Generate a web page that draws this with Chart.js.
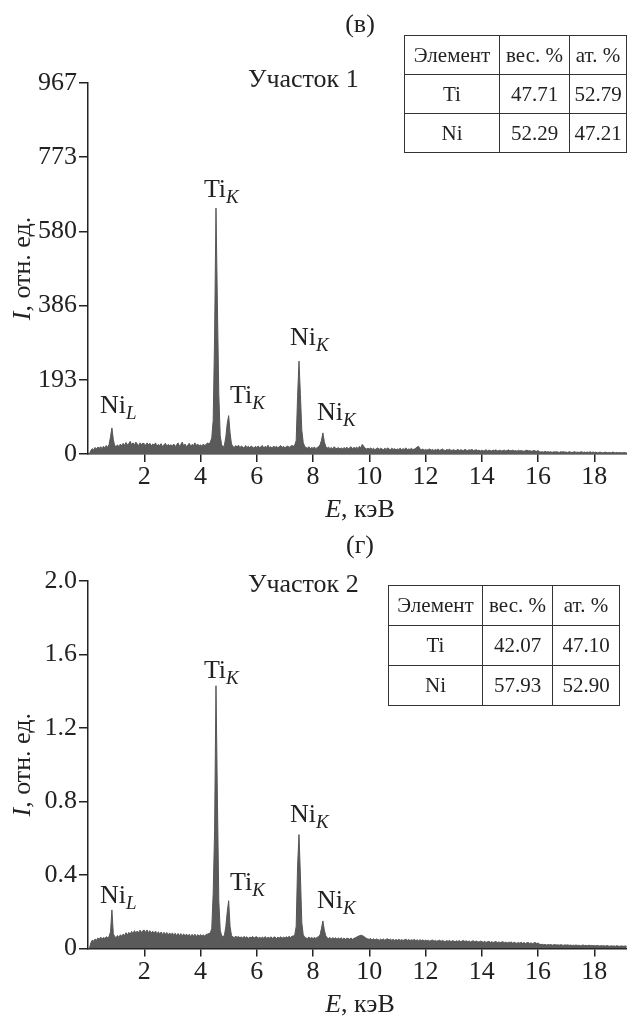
<!DOCTYPE html>
<html>
<head>
<meta charset="utf-8">
<script src="https://cdn.jsdelivr.net/npm/chart.js@4.4.0/dist/chart.umd.min.js"></script>
<style>
  body { margin: 0; background: #fff; width: 627px; height: 1016px; overflow: hidden; position: relative; font-family: "Liberation Serif", serif; color: #222; }
  canvas { position: absolute; left: 0; }
  #c1 { top: 0; }
  #c2 { top: 530px; }
  table { position: absolute; border-collapse: collapse; table-layout: fixed; font-size: 21px; }
  td { border: 1.5px solid #333; text-align: center; padding: 0; }
</style>
</head>
<body>
<canvas id="c1" width="627" height="530"></canvas>
<canvas id="c2" width="627" height="486"></canvas>
<table id="t1" style="left:404px;top:35px;width:222px"></table>
<table id="t2" style="left:388px;top:585px;width:231px"></table>
<script>
// channel width of the spectrum, keV (first channel at 0 keV)
const energyStep = 0.05;

// (в) Участок 1, counts; one row per keV
const spectrum1 = [
  0, 0, 9, 14, 11, 17, 13, 18, 15, 19, 14, 20, 16, 22, 17, 25, 45, 68, 38, 21,
  20, 24, 18, 26, 21, 28, 22, 30, 24, 27, 33, 24, 29, 23, 31, 26, 22, 29, 25, 28,
  27, 22, 29, 24, 28, 21, 26, 23, 29, 20, 25, 22, 27, 19, 24, 28, 21, 25, 22, 24,
  21, 26, 19, 24, 29, 20, 25, 31, 21, 26, 19, 23, 28, 20, 25, 22, 29, 22, 26, 21,
  24, 20, 26, 22, 25, 29, 26, 31, 42, 88, 305, 641, 388, 155, 48, 24, 19, 23, 45, 80,
  100, 55, 26, 20, 17, 22, 18, 23, 16, 21, 18, 15, 22, 17, 20, 16, 21, 18, 15, 20,
  17, 21, 16, 19, 22, 15, 20, 17, 23, 16, 19, 15, 21, 17, 20, 16, 19, 22, 17, 20,
  16, 19, 21, 17, 20, 22, 20, 24, 35, 150, 242, 155, 62, 30, 20, 17, 15, 19, 14, 17,
  15, 18, 14, 17, 19, 24, 36, 55, 32, 20, 15, 18, 14, 17, 13, 19, 15, 14, 17, 13,
  16, 13, 17, 14, 18, 13, 16, 19, 14, 17, 15, 18, 14, 20, 16, 25, 20, 15, 13, 15,
  13, 16, 12, 15, 11, 14, 16, 12, 15, 13, 11, 15, 12, 16, 13, 11, 15, 12, 14, 11,
  13, 12, 15, 11, 14, 12, 16, 11, 13, 12, 15, 11, 13, 15, 18, 20, 13, 11, 13, 10,
  12, 10, 12, 13, 10, 12, 9, 12, 10, 13, 9, 11, 13, 10, 9, 12, 10, 13, 9, 10,
  11, 9, 10, 12, 9, 11, 10, 9, 12, 10, 9, 11, 10, 12, 9, 10, 11, 9, 10, 8,
  10, 8, 9, 11, 8, 10, 9, 8, 10, 9, 11, 8, 9, 10, 8, 9, 10, 8, 9, 11,
  8, 9, 10, 8, 9, 7, 10, 8, 9, 8, 7, 9, 10, 8, 9, 7, 8, 9, 8, 7,
  9, 6, 5, 6, 5, 7, 5, 6, 5, 6, 4, 6, 5, 6, 5, 4, 6, 5, 6, 5,
  5, 4, 6, 5, 4, 5, 6, 4, 5, 4, 5, 6, 4, 5, 4, 5, 4, 6, 4, 5,
  4, 5, 3, 4, 5, 4, 3, 4, 5, 3, 4, 4, 3, 5, 4, 3, 4, 3, 4, 3,
  3, 4, 3, 3
];

// (г) Участок 2, relative units; one row per keV
const spectrum2 = [
  0, 0, 0.03, 0.045, 0.04, 0.052, 0.045, 0.057, 0.05, 0.062, 0.052, 0.06, 0.055, 0.064, 0.058, 0.066, 0.09, 0.21, 0.08, 0.064,
  0.06, 0.071, 0.06, 0.075, 0.066, 0.079, 0.069, 0.086, 0.073, 0.088, 0.077, 0.093, 0.08, 0.097, 0.083, 0.095, 0.086, 0.1, 0.087, 0.097,
  0.1, 0.087, 0.101, 0.085, 0.097, 0.083, 0.094, 0.081, 0.095, 0.078, 0.091, 0.077, 0.09, 0.075, 0.088, 0.076, 0.087, 0.073, 0.085, 0.073,
  0.085, 0.071, 0.083, 0.069, 0.082, 0.069, 0.081, 0.067, 0.08, 0.066, 0.079, 0.066, 0.078, 0.064, 0.077, 0.066, 0.078, 0.063, 0.076, 0.066,
  0.076, 0.066, 0.075, 0.066, 0.077, 0.078, 0.082, 0.085, 0.11, 0.3, 0.64, 1.43, 0.82, 0.26, 0.1, 0.07, 0.065, 0.072, 0.12, 0.2,
  0.26, 0.12, 0.072, 0.063, 0.059, 0.068, 0.06, 0.066, 0.057, 0.064, 0.056, 0.066, 0.058, 0.064, 0.055, 0.063, 0.057, 0.066, 0.056, 0.062,
  0.064, 0.055, 0.063, 0.055, 0.062, 0.056, 0.065, 0.054, 0.062, 0.056, 0.064, 0.055, 0.061, 0.063, 0.054, 0.062, 0.057, 0.064, 0.056, 0.062,
  0.057, 0.064, 0.059, 0.066, 0.06, 0.067, 0.068, 0.075, 0.12, 0.45, 0.62, 0.4, 0.14, 0.075, 0.062, 0.057, 0.055, 0.062, 0.055, 0.06,
  0.054, 0.06, 0.055, 0.061, 0.065, 0.075, 0.11, 0.15, 0.1, 0.07, 0.058, 0.054, 0.06, 0.052, 0.059, 0.053, 0.058, 0.051, 0.057, 0.052,
  0.058, 0.051, 0.057, 0.05, 0.056, 0.055, 0.051, 0.057, 0.05, 0.055, 0.058, 0.062, 0.066, 0.07, 0.072, 0.07, 0.066, 0.06, 0.055, 0.052,
  0.05, 0.055, 0.047, 0.053, 0.046, 0.052, 0.049, 0.045, 0.051, 0.046, 0.052, 0.045, 0.05, 0.053, 0.046, 0.051, 0.045, 0.05, 0.044, 0.049,
  0.045, 0.05, 0.044, 0.049, 0.043, 0.048, 0.05, 0.044, 0.049, 0.043, 0.048, 0.044, 0.05, 0.043, 0.047, 0.042, 0.048, 0.043, 0.047, 0.041,
  0.046, 0.041, 0.045, 0.04, 0.044, 0.046, 0.04, 0.044, 0.039, 0.043, 0.045, 0.039, 0.044, 0.04, 0.038, 0.043, 0.039, 0.044, 0.038, 0.042,
  0.041, 0.037, 0.042, 0.038, 0.043, 0.037, 0.041, 0.044, 0.038, 0.042, 0.037, 0.041, 0.036, 0.04, 0.042, 0.036, 0.041, 0.037, 0.035, 0.04,
  0.038, 0.034, 0.039, 0.033, 0.037, 0.039, 0.033, 0.037, 0.032, 0.036, 0.038, 0.032, 0.036, 0.031, 0.035, 0.037, 0.031, 0.035, 0.03, 0.034,
  0.033, 0.035, 0.029, 0.034, 0.03, 0.028, 0.033, 0.029, 0.034, 0.028, 0.032, 0.027, 0.031, 0.033, 0.027, 0.031, 0.026, 0.03, 0.032, 0.027,
  0.03, 0.024, 0.021, 0.023, 0.02, 0.022, 0.019, 0.021, 0.02, 0.022, 0.018, 0.02, 0.021, 0.019, 0.02, 0.018, 0.021, 0.019, 0.017, 0.02,
  0.018, 0.02, 0.017, 0.019, 0.016, 0.018, 0.017, 0.019, 0.016, 0.018, 0.015, 0.017, 0.019, 0.016, 0.017, 0.015, 0.018, 0.016, 0.017, 0.015,
  0.016, 0.014, 0.017, 0.015, 0.013, 0.016, 0.014, 0.015, 0.013, 0.016, 0.014, 0.012, 0.015, 0.013, 0.014, 0.012, 0.015, 0.013, 0.012, 0.014,
  0.013, 0.012, 0.014, 0.012
];

const xTicks = [2, 4, 6, 8, 10, 12, 14, 16, 18];
const yTicks1 = [0, 193.4, 386.8, 580.2, 773.6, 967];
const yLabels1 = ["0", "193", "386", "580", "773", "967"];
const yTicks2 = [0, 0.4, 0.8, 1.2, 1.6, 2.0];
const yLabels2 = ["0", "0.4", "0.8", "1.2", "1.6", "2.0"];

// peak labels: element, line, anchor energy, anchor height per panel
const peakNames = ["Ni", "Ti", "Ti", "Ni", "Ni"];
const peakLines = ["L", "K", "K", "K", "K"];
const labelE = [0.43, 4.12, 5.05, 7.18, 8.14];
const labelY1 = [107, 670, 133, 284, 89];
const labelY2 = [0.248, 1.472, 0.318, 0.688, 0.22];

// composition tables
const elements = ["Ti", "Ni"];
const wt1 = ["47.71", "52.29"];
const at1 = ["52.79", "47.21"];
const wt2 = ["42.07", "57.93"];
const at2 = ["47.10", "52.90"];

function fillTable(id, wt, at, colW, rowH) {
  const t = document.getElementById(id);
  let html = "<colgroup>" + colW.map(w => `<col style="width:${w}px">`).join("") + "</colgroup>";
  html += `<tr style="height:${rowH}px"><td>Элемент</td><td>вес. %</td><td>ат. %</td></tr>`;
  elements.forEach((el, i) => {
    html += `<tr style="height:${rowH}px"><td>${el}</td><td>${wt[i]}</td><td>${at[i]}</td></tr>`;
  });
  t.innerHTML = html;
}
fillTable("t1", wt1, at1, [95, 70, 57], 39);
fillTable("t2", wt2, at2, [94, 70, 67], 40);

const SERIF = '"Liberation Serif", "Times New Roman", serif';
const INK = "#222";

const textPlugin = {
  id: "panelText",
  afterDraw(chart, args, o) {
    const ctx = chart.ctx;
    const xs = chart.scales.x, ys = chart.scales.y;
    const area = chart.chartArea;
    ctx.save();
    ctx.fillStyle = INK;
    ctx.textBaseline = "alphabetic";
    ctx.textAlign = "left";

    // peak labels with subscripts
    peakNames.forEach((n, i) => {
      const px = xs.getPixelForValue(labelE[i]);
      const py = ys.getPixelForValue(o.labelY[i]);
      ctx.font = "26px " + SERIF;
      ctx.fillText(n, px, py);
      const w = ctx.measureText(n).width;
      ctx.font = "italic 19px " + SERIF;
      ctx.fillText(peakLines[i], px + w, py + 6);
    });

    // panel letter and site caption
    ctx.font = "26px " + SERIF;
    ctx.textAlign = "center";
    ctx.fillText(o.letter, 360, o.letterY);
    ctx.textAlign = "left";
    ctx.fillText(o.site, 248, o.siteY);

    // x axis title: E, кэВ
    ctx.font = "italic 26px " + SERIF;
    const wE = ctx.measureText("E").width;
    ctx.font = "26px " + SERIF;
    const wRest = ctx.measureText(", кэВ").width;
    let sx = 360 - (wE + wRest) / 2;
    ctx.font = "italic 26px " + SERIF;
    ctx.fillText("E", sx, area.bottom + 63);
    ctx.font = "26px " + SERIF;
    ctx.fillText(", кэВ", sx + wE, area.bottom + 63);

    // y axis title: I, отн. ед.
    ctx.translate(22, (area.top + area.bottom) / 2);
    ctx.rotate(-Math.PI / 2);
    ctx.font = "italic 26px " + SERIF;
    const wI = ctx.measureText("I").width;
    ctx.font = "26px " + SERIF;
    const wR = ctx.measureText(", отн. ед.").width;
    sx = -(wI + wR) / 2;
    ctx.font = "italic 26px " + SERIF;
    ctx.fillText("I", sx, 8);
    ctx.font = "26px " + SERIF;
    ctx.fillText(", отн. ед.", sx + wI, 8);
    ctx.restore();
  }
};

function makeChart(id, values, yMax, yTicks, yLabels, labelY, topPad, xAxisH, letter, letterY, site, siteY) {
  const points = values.map((v, i) => ({ x: i * energyStep, y: v }));
  return new Chart(document.getElementById(id), {
    type: "line",
    data: {
      datasets: [{
        data: points,
        borderColor: "#565656",
        backgroundColor: "#5a5a5a",
        borderWidth: 1,
        pointRadius: 0,
        tension: 0,
        fill: "origin"
      }]
    },
    options: {
      responsive: false,
      animation: false,
      layout: { padding: { top: topPad, left: 0, right: 0, bottom: 0 } },
      plugins: {
        legend: { display: false },
        tooltip: { enabled: false },
        panelText: { labelY, letter, letterY, site, siteY }
      },
      scales: {
        x: {
          type: "linear",
          min: 0,
          max: 19.16,
          afterBuildTicks: s => { s.ticks = xTicks.map(v => ({ value: v })); },
          afterFit: s => { s.height = xAxisH; },
          grid: { drawOnChartArea: false, tickLength: 8, color: INK, lineWidth: 1.5 },
          border: { color: INK, width: 1.5 },
          ticks: { color: INK, font: { family: SERIF, size: 26 }, padding: 0, maxRotation: 0, autoSkip: false }
        },
        y: {
          min: 0,
          max: yMax,
          afterBuildTicks: s => { s.ticks = yTicks.map(v => ({ value: v })); },
          afterFit: s => { s.width = 88; },
          grid: { drawOnChartArea: false, tickLength: 9, color: INK, lineWidth: 1.5 },
          border: { color: INK, width: 1.5 },
          ticks: {
            color: INK,
            font: { family: SERIF, size: 26 },
            padding: 2,
            callback: (v, i) => yLabels[i]
          }
        }
      }
    },
    plugins: [textPlugin]
  });
}

makeChart("c1", spectrum1, 967, yTicks1, yLabels1, labelY1, 83, 76, "(в)", 32, "Участок 1", 87);
makeChart("c2", spectrum2, 2.0, yTicks2, yLabels2, labelY2, 51, 67.5, "(г)", 23, "Участок 2", 62);
</script>
</body>
</html>
